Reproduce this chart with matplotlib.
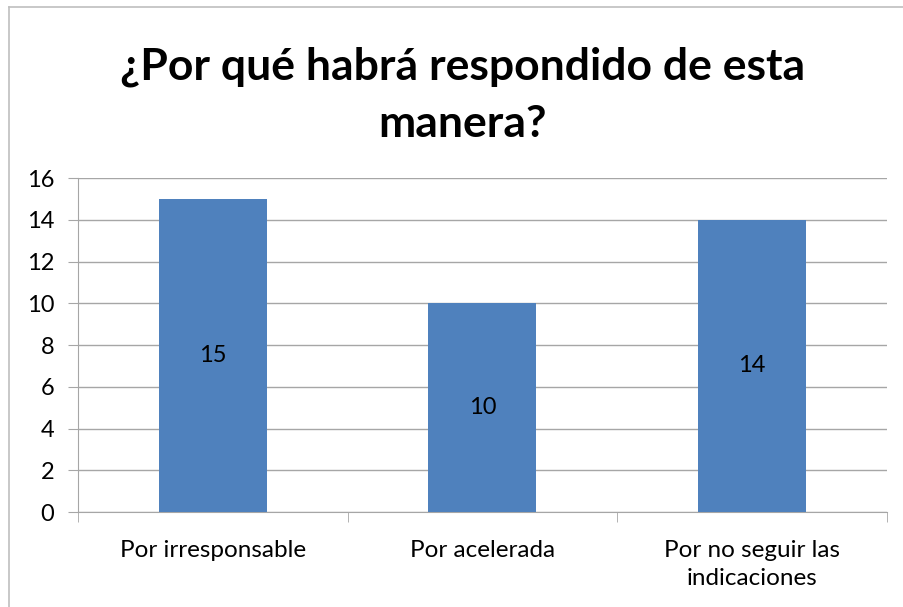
import matplotlib
matplotlib.use("Agg")
import matplotlib.pyplot as plt
from matplotlib.lines import Line2D

categories = ["Por irresponsable", "Por acelerada", "Por no seguir las\nindicaciones"]
values = [15, 10, 14]
y_ticks = [0, 2, 4, 6, 8, 10, 12, 14, 16]
title = "¿Por qué habrá respondido de esta\nmanera?"

plt.rcParams['font.family'] = ['Lato', 'DejaVu Sans']

fig = plt.figure(figsize=(9.04, 6.07), dpi=100)
ax = fig.add_axes([0.0863, 0.1565, 0.8947, 0.5502])

grid_col = "#a6a6a6"
x = list(range(len(categories)))
bars = ax.bar(x, values, width=0.4, color="#4f81bd", zorder=3)
for b, v in zip(bars, values):
    ax.text(b.get_x() + b.get_width() / 2, v / 2, str(v), ha="center", va="center",
            fontsize=17, color="black", zorder=4)

ax.set_xlim(-0.5, 2.5)
ax.set_ylim(0, 16)
ax.set_yticks(y_ticks)
ax.set_yticklabels([str(t) for t in y_ticks], fontsize=17)
ax.yaxis.grid(True, color=grid_col, linewidth=1, zorder=0)

ax.set_xticks(x)
ax.set_xticklabels(categories, fontsize=17.5, linespacing=1.4)
ax.tick_params(axis="x", length=0, pad=20)
ax.set_xticks([-0.5, 0.5, 1.5, 2.5], minor=True)
ax.tick_params(axis="x", which="minor", length=7, color=grid_col, direction="out")
ax.tick_params(axis="y", length=7, color=grid_col, pad=10)

for s in ["top", "right"]:
    ax.spines[s].set_visible(False)
for s in ["left", "bottom"]:
    ax.spines[s].set_color(grid_col)

fig.text(0.512, 0.843, title, ha="center", va="center", fontsize=32,
         fontweight="bold", linespacing=1.5)

# outer chart frame
fig.add_artist(Line2D([0.01, 0.01], [0, 0.988], transform=fig.transFigure, color="#bfbfbf", lw=1.2))
fig.add_artist(Line2D([0.01, 1], [0.988, 0.988], transform=fig.transFigure, color="#bfbfbf", lw=1.2))

fig.savefig("out.png", dpi=100)
